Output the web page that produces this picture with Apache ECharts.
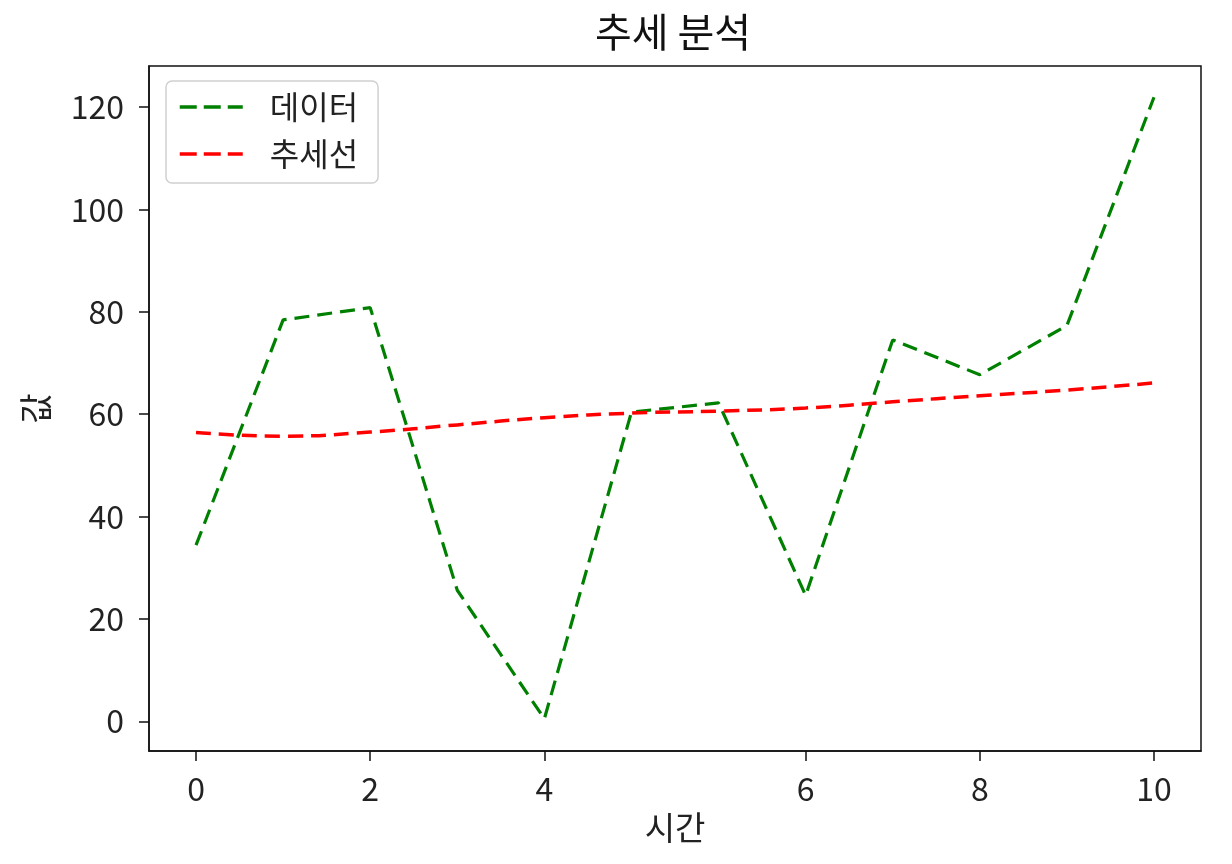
<!DOCTYPE html>
<html>
<head>
<meta charset="utf-8">
<script src="https://cdn.jsdelivr.net/npm/echarts@6/dist/echarts.min.js"></script>
<style>
  html, body { margin: 0; padding: 0; background: #fff; }
  #main { width: 1232px; height: 864px; }
</style>
</head>
<body>
<div id="main"></div>
<script>
// 데이터
var timeIdx = [0, 1, 2, 3, 4, 5, 6, 7, 8, 9, 10, 11];
var dataValues = [34.4, 78.4, 80.8, 25.6, 0.5, 60.4, 62.2, 24.6, 74.5, 67.7, 77.3, 121.9];
var trendValues = [56.4, 55.7, 56.5, 57.9, 59.3, 60.2, 60.6, 61.2, 62.4, 63.6, 64.7, 66.1];
var xTickPos = [0, 2, 4, 7, 9, 11];
var xTickText = ["0", "2", "4", "6", "8", "10"];
var yTicks = [0, 20, 40, 60, 80, 100, 120];

var FONT = "Noto Sans CJK KR";
var myChart = echarts.init(document.getElementById("main"));

function pairs(vals) {
  return timeIdx.map(function (t, i) { return [t, vals[i]]; });
}

var option = {
  backgroundColor: "#fff",
  animation: false,
  textStyle: { fontFamily: FONT },
  title: {
    text: "추세 분석",
    left: 673,
    textAlign: "center",
    top: 12,
    padding: 0,
    textStyle: { fontFamily: FONT, fontSize: 40, fontWeight: "normal", color: "#111" }
  },
  grid: {
    left: 149, right: 31, top: 66, bottom: 113,
    show: true, borderColor: "#111", borderWidth: 1.5, backgroundColor: "transparent"
  },
  legend: {
    left: 166, top: 81, orient: "vertical",
    itemWidth: 63, itemHeight: 20, itemGap: 15,
    padding: [10, 20, 13, 12],
    backgroundColor: "#fff", borderColor: "#d0d0d0", borderWidth: 1.5, borderRadius: 6,
    itemStyle: { opacity: 0 },
    lineStyle: { type: [17, 7], width: 3.5 },
    textStyle: { fontFamily: FONT, fontSize: 32, color: "#222", padding: [0, 0, 0, 22] },
    data: ["데이터", "추세선"]
  },
  xAxis: {
    type: "value",
    min: -0.54, max: 11.54,
    name: "시간", nameLocation: "middle", nameGap: 60,
    nameTextStyle: { fontFamily: FONT, fontSize: 33, color: "#222" },
    splitLine: { show: false },
    axisLine: { show: true, onZero: false, lineStyle: { color: "#111", width: 1.5 } },
    axisTick: { show: true, length: 10, customValues: xTickPos, lineStyle: { color: "#111", width: 1.5 } },
    axisLabel: {
      customValues: xTickPos, margin: 22, fontFamily: FONT, fontSize: 32, color: "#222",
      formatter: function (v) { return xTickText[xTickPos.indexOf(v)]; }
    }
  },
  yAxis: {
    type: "value",
    min: -5.8, max: 128,
    name: "값", nameLocation: "middle", nameGap: 97, nameRotate: 90,
    nameTextStyle: { fontFamily: FONT, fontSize: 33, color: "#222" },
    splitLine: { show: false },
    axisLine: { show: true, onZero: false, lineStyle: { color: "#111", width: 1.5 } },
    axisTick: { show: true, length: 10, customValues: yTicks, lineStyle: { color: "#111", width: 1.5 } },
    axisLabel: { customValues: yTicks, margin: 25, fontFamily: FONT, fontSize: 32, color: "#222" }
  },
  series: [
    {
      name: "데이터",
      type: "line",
      data: pairs(dataValues),
      symbol: "none",
      color: "#008000",
      lineStyle: { color: "#008000", width: 3.2, type: [15, 8] }
    },
    {
      name: "추세선",
      type: "line",
      data: pairs(trendValues),
      smooth: true,
      symbol: "none",
      color: "#ff0000",
      lineStyle: { color: "#ff0000", width: 3.5, type: [15, 8] }
    }
  ]
};

myChart.setOption(option);
</script>
</body>
</html>
